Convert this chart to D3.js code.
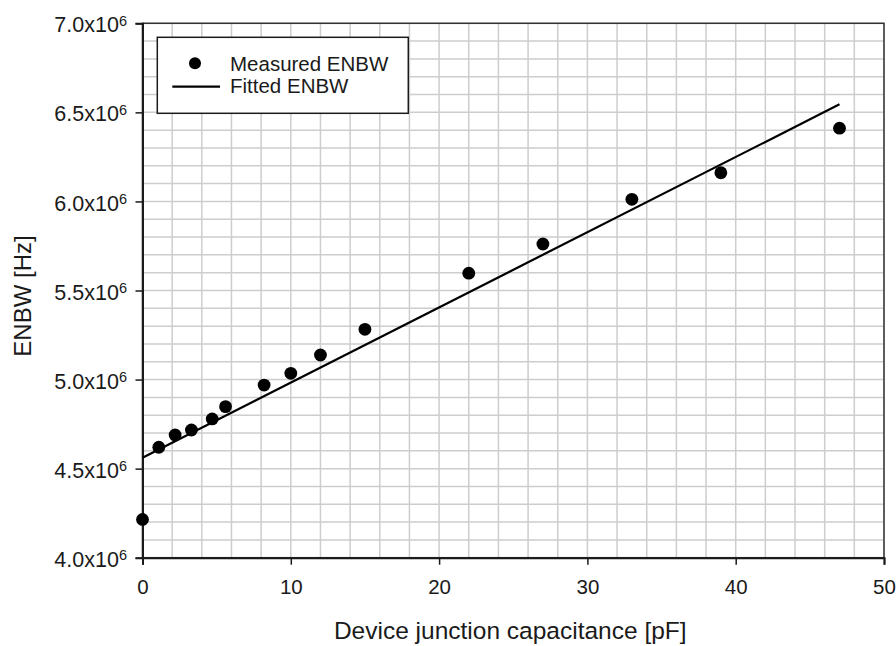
<!DOCTYPE html>
<html>
<head>
<meta charset="utf-8">
<script src="https://cdn.jsdelivr.net/npm/d3@7"></script>
<style>
  body { margin: 0; background: #fff; }
  svg { display: block; font-family: "Liberation Sans", Arial, sans-serif; }
</style>
</head>
<body>
<div id="chart"></div>
<script>
// measured points
const capacitance = [0, 1.1, 2.2, 3.3, 4.7, 5.6, 8.2, 10, 12, 15, 22, 27, 33, 39, 47];
const enbw = [4.215e6, 4.620e6, 4.689e6, 4.717e6, 4.779e6, 4.848e6, 4.969e6, 5.035e6,
  5.138e6, 5.282e6, 5.597e6, 5.761e6, 6.012e6, 6.161e6, 6.411e6];

// fitted line end points
const fitCap = [0, 47];
const fitEnbw = [4.561e6, 6.545e6];

const xTicks = [0, 10, 20, 30, 40, 50];
const yTicks = [4.0e6, 4.5e6, 5.0e6, 5.5e6, 6.0e6, 6.5e6, 7.0e6];

const width = 896, height = 646;
const margin = { top: 23.3, right: 12, bottom: 88.3, left: 142.5 };
const w = width - margin.left - margin.right;
const h = height - margin.top - margin.bottom;
const ink = '#1a1a1a';

const x = d3.scaleLinear().domain([0, 50]).range([0, w]);
const y = d3.scaleLinear().domain([4.0e6, 7.0e6]).range([h, 0]);

const svg = d3.select('#chart').append('svg')
  .attr('width', width)
  .attr('height', height);

const g = svg.append('g')
  .attr('transform', `translate(${margin.left},${margin.top})`);

// grid
g.append('g')
  .selectAll('line')
  .data(x.ticks(25))
  .join('line')
  .attr('x1', d => x(d)).attr('x2', d => x(d))
  .attr('y1', 0).attr('y2', h)
  .attr('stroke', '#cdcdcd')
  .attr('stroke-width', 1.5);

g.append('g')
  .selectAll('line')
  .data(y.ticks(30))
  .join('line')
  .attr('x1', 0).attr('x2', w)
  .attr('y1', d => y(d)).attr('y2', d => y(d))
  .attr('stroke', '#cdcdcd')
  .attr('stroke-width', 1.5);

// frame
g.append('rect')
  .attr('width', w).attr('height', h)
  .attr('fill', 'none')
  .attr('stroke', '#333')
  .attr('stroke-width', 1.5);

// axes
const xAxis = g.append('g')
  .attr('transform', `translate(0,${h})`)
  .call(d3.axisBottom(x).tickValues(xTicks).tickSize(7).tickFormat(''));
const yAxis = g.append('g')
  .call(d3.axisLeft(y).tickValues(yTicks).tickSize(7).tickFormat(''));

[xAxis, yAxis].forEach(a => {
  a.select('.domain').attr('stroke', ink).attr('stroke-width', 2);
  a.selectAll('.tick line').attr('stroke', ink).attr('stroke-width', 1.5);
});

xAxis.selectAll('.tick').append('text')
  .attr('y', 36.3)
  .attr('fill', ink)
  .attr('font-size', '20.5px')
  .attr('text-anchor', 'middle')
  .text(d => d);

const yLabel = yAxis.selectAll('.tick').append('text')
  .attr('x', -15.5)
  .attr('y', 8.6)
  .attr('fill', ink)
  .attr('font-size', '21.5px')
  .attr('text-anchor', 'end');
yLabel.append('tspan').text(d => d3.format('.1f')(d / 1e6) + 'x10');
yLabel.append('tspan')
  .attr('font-size', '14.5px')
  .attr('dy', -6.5)
  .text('6');

// fitted line
const fit = fitCap.map((c, i) => [c, fitEnbw[i]]);
g.append('path')
  .datum(fit)
  .attr('fill', 'none')
  .attr('stroke', '#000')
  .attr('stroke-width', 2.2)
  .attr('d', d3.line().x(d => x(d[0])).y(d => y(d[1])));

// measured points
g.append('g')
  .selectAll('circle')
  .data(capacitance.map((c, i) => [c, enbw[i]]))
  .join('circle')
  .attr('cx', d => x(d[0]))
  .attr('cy', d => y(d[1]))
  .attr('r', 6.4)
  .attr('fill', '#000');

// legend
const lg = svg.append('g');
lg.append('rect')
  .attr('x', 157.3).attr('y', 37.3)
  .attr('width', 251).attr('height', 76)
  .attr('fill', '#fff')
  .attr('stroke', ink)
  .attr('stroke-width', 1.5);
lg.append('circle')
  .attr('cx', 195).attr('cy', 63.3).attr('r', 6)
  .attr('fill', '#000');
lg.append('line')
  .attr('x1', 172.3).attr('x2', 220)
  .attr('y1', 86.7).attr('y2', 86.7)
  .attr('stroke', '#000')
  .attr('stroke-width', 2.2);
lg.append('text')
  .attr('x', 230).attr('y', 70.7)
  .attr('font-size', '20.5px').attr('fill', ink)
  .text('Measured ENBW');
lg.append('text')
  .attr('x', 230).attr('y', 93.3)
  .attr('font-size', '20.5px').attr('fill', ink)
  .text('Fitted ENBW');

// axis titles
svg.append('text')
  .attr('x', margin.left + w / 2 - 3)
  .attr('y', 639)
  .attr('text-anchor', 'middle')
  .attr('font-size', '24.5px')
  .attr('fill', ink)
  .text('Device junction capacitance [pF]');

svg.append('text')
  .attr('transform', `translate(31,${296}) rotate(-90)`)
  .attr('text-anchor', 'middle')
  .attr('font-size', '24px')
  .attr('fill', ink)
  .text('ENBW [Hz]');
</script>
</body>
</html>
